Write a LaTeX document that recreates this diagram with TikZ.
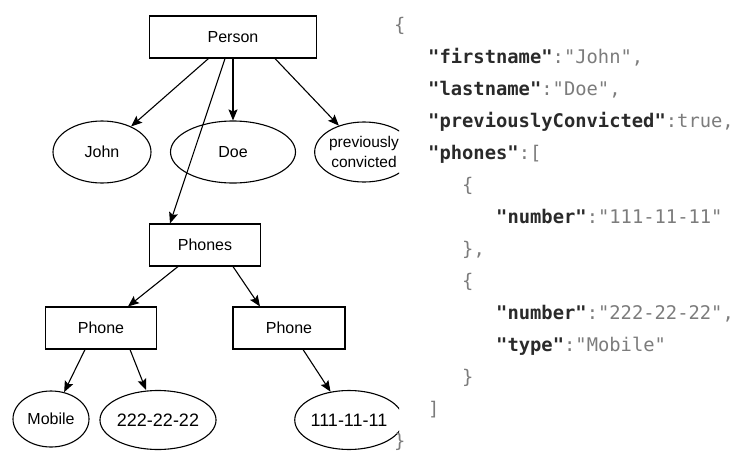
\documentclass[tikz,border=0pt]{standalone}
\usepackage{fontspec}
\setmainfont{Liberation Sans}
\setmonofont{DejaVu Sans Mono}
\usetikzlibrary{shapes.geometric,arrows.meta}
\definecolor{keygray}{HTML}{2A2A2A}
\definecolor{valgray}{HTML}{7C7C7C}
\newcommand{\jkey}[1]{\textbf{\color{keygray}"#1"}}
\begin{document}
\begin{tikzpicture}[x=1pt,y=-1pt,
    box/.style={draw,line width=1.1pt,inner sep=0pt,font=\fontsize{16}{19}\selectfont},
    oval/.style={draw,ellipse,line width=1.1pt,inner sep=0pt,font=\fontsize{16}{19}\selectfont},
    arr/.style={line width=1.1pt,-{Stealth[length=11pt,width=9pt,inset=2pt]}},
    json/.style={anchor=base west,inner sep=0pt,text=valgray,font=\ttfamily\fontsize{18.8}{23}\selectfont}]
    \useasboundingbox (0,0) rectangle (742,453);
    % tree
    \begin{scope}
    \clip (0,0) rectangle (399,453);
    \node[box,minimum width=167pt,minimum height=42pt] (person) at (233,37) {Person};
    \node[oval,minimum width=98pt,minimum height=62pt] (john) at (102,152) {John};
    \node[oval,minimum width=125pt,minimum height=62pt] (doe) at (233,152) {Doe};
    \node[oval,minimum width=98pt,minimum height=60pt,align=center,
          font=\fontsize{15.5}{19.5}\selectfont] (prev) at (364,152) {previously\\convicted};
    \node[box,minimum width=111pt,minimum height=42pt] (phones) at (205,245) {Phones};
    \node[box,minimum width=111pt,minimum height=42pt] (phonea) at (101,328) {Phone};
    \node[box,minimum width=112pt,minimum height=42pt] (phoneb) at (289,328) {Phone};
    \node[oval,minimum width=76pt,minimum height=56pt] (mobile) at (51,419) {Mobile};
    \node[oval,minimum width=105pt,minimum height=59pt,font=\fontsize{18}{21}\selectfont] (num2) at (158,420) {222-22-22};
    \node[oval,minimum width=104pt,minimum height=59pt,font=\fontsize{18}{21}\selectfont] (num1) at (349,420) {111-11-11};
    \draw[arr] (person) -- (john);
    \draw[arr] (person) -- (doe);
    \draw[arr] ([xshift=42pt]person.south) -- (prev);
    \draw[arr] ([xshift=-8pt]person.south) -- ([xshift=-35pt]phones.north);
    \draw[arr] (phones) -- (phonea);
    \draw[arr] ([xshift=28pt]phones.south) -- ([xshift=-29pt]phoneb.north);
    \draw[arr] ([xshift=-16pt]phonea.south) -- (mobile);
    \draw[arr] ([xshift=29pt]phonea.south) -- ([xshift=-12pt]num2.north);
    \draw[arr] (phoneb) -- (num1);
    \end{scope}
    % json
    \node[json] (open0) at (394,31) {\{};
    \node[json] (first) at (428,63) {\jkey{firstname}:"John",};
    \node[json] (last) at (428,95) {\jkey{lastname}:"Doe",};
    \node[json] (convict) at (428,127) {\jkey{previouslyConvicted}:true,};
    \node[json] (phkey) at (428,159) {\jkey{phones}:[};
    \node[json] (open1) at (462,191) {\{};
    \node[json] (numa) at (496,223) {\jkey{number}:"111-11-11"};
    \node[json] (close1) at (462,255) {\},};
    \node[json] (open2) at (462,287) {\{};
    \node[json] (numb) at (496,319) {\jkey{number}:"222-22-22",};
    \node[json] (kind) at (496,351) {\jkey{type}:"Mobile"};
    \node[json] (close2) at (462,383) {\}};
    \node[json] (bracket) at (428,415) {]};
    \node[json] (close0) at (394,447) {\}};
\end{tikzpicture}
\end{document}
